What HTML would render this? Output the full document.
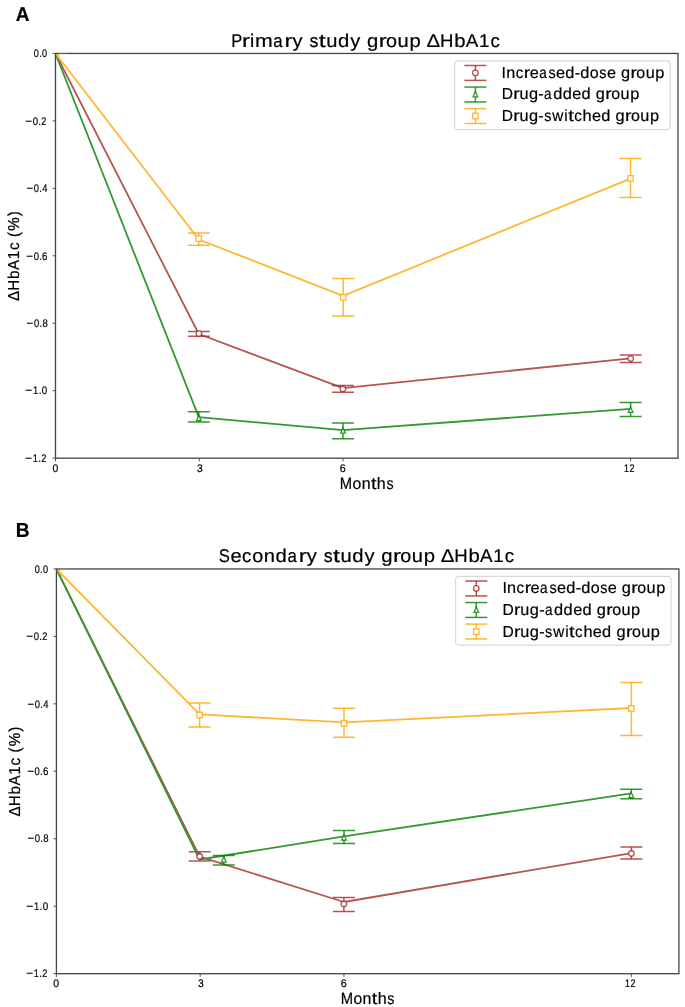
<!DOCTYPE html>
<html><head><meta charset="utf-8"><style>
html,body{margin:0;padding:0;background:#fff;}
svg{display:block;will-change:transform;}
.wrap{}
text{font-family:"Liberation Sans",sans-serif;font-kerning:none;text-rendering:geometricPrecision;stroke:#000;stroke-width:0.2;}
.sp{stroke:#444;fill:none;}
</style></head><body>
<div class="wrap"><svg width="685" height="1007" viewBox="0 0 685 1007">
<rect width="685" height="1007" fill="#fff"/>
<g>
<rect width="685" height="1007" fill="#fff"/>
<text transform="translate(15.73,21) scale(0.9440,1)" font-size="20.06" font-weight="bold" fill="#000">A</text>
<text transform="translate(15.72,537) scale(0.9500,1)" font-size="20.2" font-weight="bold" fill="#000">B</text>
<text transform="translate(33.84,57) scale(0.821,1)" font-size="11.1">0</text><text transform="translate(39.2,57) scale(0.842,1)" font-size="11.1">.</text><text transform="translate(42.09,57) scale(0.821,1)" font-size="11.1">0</text>
<line x1="52.5" y1="53.45" x2="55.5" y2="53.45" class="sp" stroke-width="0.9"/>
<text transform="translate(25.33,125) scale(1.050,1)" font-size="11.1">−</text><text transform="translate(32.74,125) scale(0.859,1)" font-size="11.1">0</text><text transform="translate(38.35,125) scale(0.882,1)" font-size="11.1">.</text><text transform="translate(41.35,125) scale(0.828,1)" font-size="11.1">2</text>
<line x1="52.5" y1="120.9" x2="55.5" y2="120.9" class="sp" stroke-width="0.9"/>
<text transform="translate(26.53,192) scale(1.035,1)" font-size="11.1">−</text><text transform="translate(33.84,192) scale(0.847,1)" font-size="11.1">0</text><text transform="translate(39.37,192) scale(0.869,1)" font-size="11.1">.</text><text transform="translate(42.35,192) scale(0.847,1)" font-size="11.1">4</text>
<line x1="52.5" y1="188.35" x2="55.5" y2="188.35" class="sp" stroke-width="0.9"/>
<text transform="translate(26.33,260) scale(1.038,1)" font-size="11.1">−</text><text transform="translate(33.67,260) scale(0.849,1)" font-size="11.1">0</text><text transform="translate(39.21,260) scale(0.872,1)" font-size="11.1">.</text><text transform="translate(42.1,260) scale(0.879,1)" font-size="11.1">6</text>
<line x1="52.5" y1="255.8" x2="55.5" y2="255.8" class="sp" stroke-width="0.9"/>
<text transform="translate(26.53,327) scale(1.040,1)" font-size="11.1">−</text><text transform="translate(33.88,327) scale(0.851,1)" font-size="11.1">0</text><text transform="translate(39.43,327) scale(0.874,1)" font-size="11.1">.</text><text transform="translate(42.4,327) scale(0.860,1)" font-size="11.1">8</text>
<line x1="52.5" y1="323.25" x2="55.5" y2="323.25" class="sp" stroke-width="0.9"/>
<text transform="translate(25.31,394) scale(1.081,1)" font-size="11.1">−</text><text transform="translate(33.02,394) scale(0.844,1)" font-size="11.1">1</text><text transform="translate(38.71,394) scale(0.907,1)" font-size="11.1">.</text><text transform="translate(41.83,394) scale(0.884,1)" font-size="11.1">0</text>
<line x1="52.5" y1="390.7" x2="55.5" y2="390.7" class="sp" stroke-width="0.9"/>
<text transform="translate(25.33,462) scale(1.050,1)" font-size="11.1">−</text><text transform="translate(32.82,462) scale(0.820,1)" font-size="11.1">1</text><text transform="translate(38.35,462) scale(0.882,1)" font-size="11.1">.</text><text transform="translate(41.35,462) scale(0.828,1)" font-size="11.1">2</text>
<line x1="52.5" y1="458.15" x2="55.5" y2="458.15" class="sp" stroke-width="0.9"/>
<text transform="translate(52.44,472) scale(0.942,1)" font-size="11.1">0</text>
<line x1="55.5" y1="458.2" x2="55.5" y2="461.4" class="sp" stroke-width="0.9"/>
<text transform="translate(197.02,472) scale(0.931,1)" font-size="11.1">3</text>
<line x1="199.26" y1="458.2" x2="199.26" y2="461.4" class="sp" stroke-width="0.9"/>
<text transform="translate(339.82,472) scale(0.976,1)" font-size="11.1">6</text>
<line x1="343.02" y1="458.2" x2="343.02" y2="461.4" class="sp" stroke-width="0.9"/>
<text transform="translate(624.06,472) scale(0.802,1)" font-size="11.1">1</text><text transform="translate(629.59,472) scale(0.810,1)" font-size="11.1">2</text>
<line x1="630.54" y1="458.2" x2="630.54" y2="461.4" class="sp" stroke-width="0.9"/>
<text transform="translate(339.79,489) scale(0.896,1)" font-size="16.5">M</text><text transform="translate(352.49,489) scale(0.955,1)" font-size="16.5">o</text><text transform="translate(361.69,489) scale(0.968,1)" font-size="16.5">n</text><text transform="translate(370.89,489) scale(1.200,1)" font-size="16.5">t</text><text transform="translate(376.84,489) scale(0.975,1)" font-size="16.5">h</text><text transform="translate(386.41,489) scale(0.861,1)" font-size="16.5">s</text>
<text transform="translate(18.75,301) rotate(-90) scale(0.9534,1)" x="-0.05 10.83 23.2 32.6 43.81 53.51 54.51 67.04 73.57 88.97" y="0" font-size="15.93">ΔHbA1c (%)</text>
<text transform="translate(231.34,47.2) scale(0.893,1)" font-size="18.5">P</text><text transform="translate(241.91,47.2) scale(1.294,1)" font-size="18.5">r</text><text transform="translate(249.97,47.2) scale(1.032,1)" font-size="18.5">i</text><text transform="translate(254.96,47.2) scale(1.150,1)" font-size="18.5">m</text><text transform="translate(273.28,47.2) scale(0.908,1)" font-size="18.5">a</text><text transform="translate(284.42,47.2) scale(1.294,1)" font-size="18.5">r</text><text transform="translate(292.5,47.2) scale(1.084,1)" font-size="18.5">y</text><text transform="translate(309.5,47.2) scale(0.968,1)" font-size="18.5">s</text><text transform="translate(318.84,47.2) scale(1.350,1)" font-size="18.5">t</text><text transform="translate(326.32,47.2) scale(1.089,1)" font-size="18.5">u</text><text transform="translate(338.06,47.2) scale(1.097,1)" font-size="18.5">d</text><text transform="translate(350.25,47.2) scale(1.084,1)" font-size="18.5">y</text><text transform="translate(366.91,47.2) scale(1.097,1)" font-size="18.5">g</text><text transform="translate(378.7,47.2) scale(1.294,1)" font-size="18.5">r</text><text transform="translate(386.06,47.2) scale(1.073,1)" font-size="18.5">o</text><text transform="translate(397.57,47.2) scale(1.089,1)" font-size="18.5">u</text><text transform="translate(409.52,47.2) scale(1.099,1)" font-size="18.5">p</text><text transform="translate(426.46,47.2) scale(1.109,1)" font-size="18.5">Δ</text><text transform="translate(440.01,47.2) scale(1.004,1)" font-size="18.5">H</text><text transform="translate(454.14,47.2) scale(1.099,1)" font-size="18.5">b</text><text transform="translate(465.72,47.2) scale(1.017,1)" font-size="18.5">A</text><text transform="translate(479.01,47.2) scale(1.017,1)" font-size="18.5">1</text><text transform="translate(490.51,47.2) scale(1.013,1)" font-size="18.5">c</text>
<clipPath id="c0"><rect x="55.5" y="53.45" width="622.5" height="404.75"/></clipPath>
<g clip-path="url(#c0)">
<path d="M55.5,53.5 L198.8,334 L343,388.1 L630.5,358.3" fill="none" stroke="#b75555" stroke-width="1.8" stroke-linejoin="round"/>
<path d="M198.9,331.6 V336.3 M342.9,385.4 V392.2 M630.7,354.9 V362.4" fill="none" stroke="#A52A2A" stroke-opacity="0.8" stroke-width="1.5"/>
<path d="M187.9,331.6 H209.9 M331.9,385.4 H353.9 M619.7,354.9 H641.7" fill="none" stroke="#A52A2A" stroke-opacity="0.8" stroke-width="1.5"/>
<path d="M187.9,336.3 H209.9 M331.9,392.2 H353.9 M619.7,362.4 H641.7" fill="none" stroke="#A52A2A" stroke-opacity="0.8" stroke-width="1.5"/>
<path d="M55.5,53.5 L198.8,417.2 L343,430.1 L630.5,408.8" fill="none" stroke="#339933" stroke-width="1.8" stroke-linejoin="round"/>
<path d="M198.8,411.7 V422 M343,422.9 V438.7 M630.6,402.5 V416.5" fill="none" stroke="#008000" stroke-opacity="0.8" stroke-width="1.5"/>
<path d="M187.8,411.7 H209.8 M332,422.9 H354 M619.6,402.5 H641.6" fill="none" stroke="#008000" stroke-opacity="0.8" stroke-width="1.5"/>
<path d="M187.8,422 H209.8 M332,438.7 H354 M619.6,416.5 H641.6" fill="none" stroke="#008000" stroke-opacity="0.8" stroke-width="1.5"/>
<path d="M55.5,53.5 L198.8,239.5 L343.1,295.8 L630.5,178.6" fill="none" stroke="#ffb733" stroke-width="1.8" stroke-linejoin="round"/>
<path d="M198.7,233 V245.2 M343.2,278.6 V315.9 M630.5,158.6 V197.6" fill="none" stroke="#FFA500" stroke-opacity="0.8" stroke-width="1.5"/>
<path d="M187.7,233 H209.7 M332.2,278.6 H354.2 M619.5,158.6 H641.5" fill="none" stroke="#FFA500" stroke-opacity="0.8" stroke-width="1.5"/>
<path d="M187.7,245.2 H209.7 M332.2,315.9 H354.2 M619.5,197.6 H641.5" fill="none" stroke="#FFA500" stroke-opacity="0.8" stroke-width="1.5"/>
<circle cx="198.9" cy="333.6" r="2.75" fill="#fff" stroke="#A52A2A" stroke-opacity="0.8" stroke-width="1.3"/>
<circle cx="342.9" cy="389" r="2.75" fill="#fff" stroke="#A52A2A" stroke-opacity="0.8" stroke-width="1.3"/>
<circle cx="630.7" cy="358.6" r="2.75" fill="#fff" stroke="#A52A2A" stroke-opacity="0.8" stroke-width="1.3"/>
<path d="M198.8,415.3 L201.15,420.7 L196.45,420.7 Z" fill="#fff" stroke="#008000" stroke-opacity="0.8" stroke-width="1.3" stroke-linejoin="miter"/>
<path d="M343,427.8 L345.35,433.2 L340.65,433.2 Z" fill="#fff" stroke="#008000" stroke-opacity="0.8" stroke-width="1.3" stroke-linejoin="miter"/>
<path d="M630.6,406.9 L632.95,412.3 L628.25,412.3 Z" fill="#fff" stroke="#008000" stroke-opacity="0.8" stroke-width="1.3" stroke-linejoin="miter"/>
<rect x="196" y="235.9" width="5.4" height="5.4" fill="#fff" stroke="#FFA500" stroke-opacity="0.8" stroke-width="1.3"/>
<rect x="340.5" y="294.6" width="5.4" height="5.4" fill="#fff" stroke="#FFA500" stroke-opacity="0.8" stroke-width="1.3"/>
<rect x="627.8" y="175.6" width="5.4" height="5.4" fill="#fff" stroke="#FFA500" stroke-opacity="0.8" stroke-width="1.3"/>
<path d="M58.4,53.45 V56.55" stroke="#FFA500" stroke-opacity="0.8" stroke-width="1.1" fill="none"/>
</g>
<rect x="55.5" y="53.45" width="622.5" height="404.75" fill="none" class="sp" stroke-width="1.3"/>
<path d="M58.1,53.45 H66.7" stroke="#FFA500" stroke-opacity="0.3" stroke-width="1.2" fill="none"/>
<rect x="454.7" y="60.9" width="215.5" height="68.7" rx="3.5" fill="#fff" stroke="#d8d8d8" stroke-width="1.1"/>
<path d="M475.4,65.5 V80.4" fill="none" stroke="#A52A2A" stroke-opacity="0.8" stroke-width="1.5"/>
<path d="M464.4,65.5 H486.4" fill="none" stroke="#A52A2A" stroke-opacity="0.8" stroke-width="1.5"/>
<path d="M464.4,80.4 H486.4" fill="none" stroke="#A52A2A" stroke-opacity="0.8" stroke-width="1.5"/>
<circle cx="475.4" cy="72.95" r="2.75" fill="#fff" stroke="#A52A2A" stroke-opacity="0.8" stroke-width="1.3"/>
<text transform="translate(501.48,78) scale(0.995,1)" font-size="16">I</text><text transform="translate(506.2,78) scale(1.014,1)" font-size="16">n</text><text transform="translate(515.64,78) scale(0.944,1)" font-size="16">c</text><text transform="translate(523.81,78) scale(1.205,1)" font-size="16">r</text><text transform="translate(529.72,78) scale(1.016,1)" font-size="16">e</text><text transform="translate(539.17,78) scale(0.846,1)" font-size="16">a</text><text transform="translate(548.48,78) scale(0.902,1)" font-size="16">s</text><text transform="translate(556.04,78) scale(1.016,1)" font-size="16">e</text><text transform="translate(565.31,78) scale(1.022,1)" font-size="16">d</text><text transform="translate(574.73,78) scale(1.014,1)" font-size="16">-</text><text transform="translate(580.29,78) scale(1.022,1)" font-size="16">d</text><text transform="translate(589.86,78) scale(1.000,1)" font-size="16">o</text><text transform="translate(599.32,78) scale(0.902,1)" font-size="16">s</text><text transform="translate(606.89,78) scale(1.016,1)" font-size="16">e</text><text transform="translate(620.94,78) scale(1.022,1)" font-size="16">g</text><text transform="translate(630.43,78) scale(1.205,1)" font-size="16">r</text><text transform="translate(636.36,78) scale(1.000,1)" font-size="16">o</text><text transform="translate(645.64,78) scale(1.014,1)" font-size="16">u</text><text transform="translate(655.26,78) scale(1.023,1)" font-size="16">p</text>
<path d="M475.4,87.05 V101.95" fill="none" stroke="#008000" stroke-opacity="0.8" stroke-width="1.5"/>
<path d="M464.4,87.05 H486.4" fill="none" stroke="#008000" stroke-opacity="0.8" stroke-width="1.5"/>
<path d="M464.4,101.95 H486.4" fill="none" stroke="#008000" stroke-opacity="0.8" stroke-width="1.5"/>
<path d="M475.4,91.5 L477.75,96.9 L473.05,96.9 Z" fill="#fff" stroke="#008000" stroke-opacity="0.8" stroke-width="1.3" stroke-linejoin="miter"/>
<text transform="translate(501.67,99) scale(0.973,1)" font-size="16">D</text><text transform="translate(513.15,99) scale(1.205,1)" font-size="16">r</text><text transform="translate(519.47,99) scale(1.014,1)" font-size="16">u</text><text transform="translate(528.93,99) scale(1.022,1)" font-size="16">g</text><text transform="translate(538.35,99) scale(1.014,1)" font-size="16">-</text><text transform="translate(544.1,99) scale(0.846,1)" font-size="16">a</text><text transform="translate(553.14,99) scale(1.022,1)" font-size="16">d</text><text transform="translate(562.69,99) scale(1.022,1)" font-size="16">d</text><text transform="translate(572.24,99) scale(1.016,1)" font-size="16">e</text><text transform="translate(581.5,99) scale(1.022,1)" font-size="16">d</text><text transform="translate(595.84,99) scale(1.022,1)" font-size="16">g</text><text transform="translate(605.34,99) scale(1.205,1)" font-size="16">r</text><text transform="translate(611.27,99) scale(1.000,1)" font-size="16">o</text><text transform="translate(620.54,99) scale(1.014,1)" font-size="16">u</text><text transform="translate(630.17,99) scale(1.023,1)" font-size="16">p</text>
<path d="M475.4,108.6 V123.5" fill="none" stroke="#FFA500" stroke-opacity="0.8" stroke-width="1.5"/>
<path d="M464.4,108.6 H486.4" fill="none" stroke="#FFA500" stroke-opacity="0.8" stroke-width="1.5"/>
<path d="M464.4,123.5 H486.4" fill="none" stroke="#FFA500" stroke-opacity="0.8" stroke-width="1.5"/>
<rect x="472.7" y="113.35" width="5.4" height="5.4" fill="#fff" stroke="#FFA500" stroke-opacity="0.8" stroke-width="1.3"/>
<text transform="translate(501.67,121) scale(0.973,1)" font-size="16">D</text><text transform="translate(513.15,121) scale(1.205,1)" font-size="16">r</text><text transform="translate(519.47,121) scale(1.014,1)" font-size="16">u</text><text transform="translate(528.93,121) scale(1.022,1)" font-size="16">g</text><text transform="translate(538.35,121) scale(1.014,1)" font-size="16">-</text><text transform="translate(544.19,121) scale(0.902,1)" font-size="16">s</text><text transform="translate(552.27,121) scale(0.951,1)" font-size="16">w</text><text transform="translate(564.31,121) scale(0.962,1)" font-size="16">i</text><text transform="translate(568.2,121) scale(1.257,1)" font-size="16">t</text><text transform="translate(574.19,121) scale(0.944,1)" font-size="16">c</text><text transform="translate(582.51,121) scale(1.021,1)" font-size="16">h</text><text transform="translate(591.96,121) scale(1.016,1)" font-size="16">e</text><text transform="translate(601.22,121) scale(1.022,1)" font-size="16">d</text><text transform="translate(615.56,121) scale(1.022,1)" font-size="16">g</text><text transform="translate(625.05,121) scale(1.205,1)" font-size="16">r</text><text transform="translate(630.98,121) scale(1.000,1)" font-size="16">o</text><text transform="translate(640.26,121) scale(1.014,1)" font-size="16">u</text><text transform="translate(649.88,121) scale(1.023,1)" font-size="16">p</text>
<text transform="translate(34.74,573) scale(0.821,1)" font-size="11.1">0</text><text transform="translate(40.1,573) scale(0.842,1)" font-size="11.1">.</text><text transform="translate(42.99,573) scale(0.821,1)" font-size="11.1">0</text>
<line x1="53.4" y1="568.95" x2="56.4" y2="568.95" class="sp" stroke-width="0.9"/>
<text transform="translate(26.23,640) scale(1.050,1)" font-size="11.1">−</text><text transform="translate(33.64,640) scale(0.859,1)" font-size="11.1">0</text><text transform="translate(39.25,640) scale(0.882,1)" font-size="11.1">.</text><text transform="translate(42.25,640) scale(0.828,1)" font-size="11.1">2</text>
<line x1="53.4" y1="636.4" x2="56.4" y2="636.4" class="sp" stroke-width="0.9"/>
<text transform="translate(27.43,708) scale(1.035,1)" font-size="11.1">−</text><text transform="translate(34.74,708) scale(0.847,1)" font-size="11.1">0</text><text transform="translate(40.27,708) scale(0.869,1)" font-size="11.1">.</text><text transform="translate(43.25,708) scale(0.847,1)" font-size="11.1">4</text>
<line x1="53.4" y1="703.85" x2="56.4" y2="703.85" class="sp" stroke-width="0.9"/>
<text transform="translate(27.23,775) scale(1.038,1)" font-size="11.1">−</text><text transform="translate(34.57,775) scale(0.849,1)" font-size="11.1">0</text><text transform="translate(40.11,775) scale(0.872,1)" font-size="11.1">.</text><text transform="translate(43,775) scale(0.879,1)" font-size="11.1">6</text>
<line x1="53.4" y1="771.3" x2="56.4" y2="771.3" class="sp" stroke-width="0.9"/>
<text transform="translate(27.43,842) scale(1.040,1)" font-size="11.1">−</text><text transform="translate(34.78,842) scale(0.851,1)" font-size="11.1">0</text><text transform="translate(40.33,842) scale(0.874,1)" font-size="11.1">.</text><text transform="translate(43.3,842) scale(0.860,1)" font-size="11.1">8</text>
<line x1="53.4" y1="838.75" x2="56.4" y2="838.75" class="sp" stroke-width="0.9"/>
<text transform="translate(26.21,910) scale(1.081,1)" font-size="11.1">−</text><text transform="translate(33.92,910) scale(0.844,1)" font-size="11.1">1</text><text transform="translate(39.61,910) scale(0.907,1)" font-size="11.1">.</text><text transform="translate(42.73,910) scale(0.884,1)" font-size="11.1">0</text>
<line x1="53.4" y1="906.2" x2="56.4" y2="906.2" class="sp" stroke-width="0.9"/>
<text transform="translate(26.23,977) scale(1.050,1)" font-size="11.1">−</text><text transform="translate(33.72,977) scale(0.820,1)" font-size="11.1">1</text><text transform="translate(39.25,977) scale(0.882,1)" font-size="11.1">.</text><text transform="translate(42.25,977) scale(0.828,1)" font-size="11.1">2</text>
<line x1="53.4" y1="973.65" x2="56.4" y2="973.65" class="sp" stroke-width="0.9"/>
<text transform="translate(53.34,987) scale(0.942,1)" font-size="11.1">0</text>
<line x1="56.4" y1="973.7" x2="56.4" y2="976.9" class="sp" stroke-width="0.9"/>
<text transform="translate(197.92,987) scale(0.931,1)" font-size="11.1">3</text>
<line x1="200.16" y1="973.7" x2="200.16" y2="976.9" class="sp" stroke-width="0.9"/>
<text transform="translate(340.72,987) scale(0.976,1)" font-size="11.1">6</text>
<line x1="343.92" y1="973.7" x2="343.92" y2="976.9" class="sp" stroke-width="0.9"/>
<text transform="translate(624.96,987) scale(0.802,1)" font-size="11.1">1</text><text transform="translate(630.49,987) scale(0.810,1)" font-size="11.1">2</text>
<line x1="631.44" y1="973.7" x2="631.44" y2="976.9" class="sp" stroke-width="0.9"/>
<text transform="translate(340.69,1004) scale(0.896,1)" font-size="16.5">M</text><text transform="translate(353.39,1004) scale(0.955,1)" font-size="16.5">o</text><text transform="translate(362.59,1004) scale(0.968,1)" font-size="16.5">n</text><text transform="translate(371.79,1004) scale(1.200,1)" font-size="16.5">t</text><text transform="translate(377.74,1004) scale(0.975,1)" font-size="16.5">h</text><text transform="translate(387.31,1004) scale(0.861,1)" font-size="16.5">s</text>
<text transform="translate(19.65,816.5) rotate(-90) scale(0.9534,1)" x="-0.05 10.83 23.2 32.6 43.81 53.51 54.51 67.04 73.57 88.97" y="0" font-size="15.93">ΔHbA1c (%)</text>
<text transform="translate(218.84,562.4) scale(0.900,1)" font-size="18.5">S</text><text transform="translate(230.4,562.4) scale(1.091,1)" font-size="18.5">e</text><text transform="translate(241.95,562.4) scale(1.013,1)" font-size="18.5">c</text><text transform="translate(252.19,562.4) scale(1.073,1)" font-size="18.5">o</text><text transform="translate(263.78,562.4) scale(1.089,1)" font-size="18.5">n</text><text transform="translate(275.44,562.4) scale(1.097,1)" font-size="18.5">d</text><text transform="translate(287.52,562.4) scale(0.908,1)" font-size="18.5">a</text><text transform="translate(298.67,562.4) scale(1.294,1)" font-size="18.5">r</text><text transform="translate(306.75,562.4) scale(1.084,1)" font-size="18.5">y</text><text transform="translate(323.75,562.4) scale(0.968,1)" font-size="18.5">s</text><text transform="translate(333.09,562.4) scale(1.350,1)" font-size="18.5">t</text><text transform="translate(340.57,562.4) scale(1.089,1)" font-size="18.5">u</text><text transform="translate(352.31,562.4) scale(1.097,1)" font-size="18.5">d</text><text transform="translate(364.49,562.4) scale(1.084,1)" font-size="18.5">y</text><text transform="translate(381.16,562.4) scale(1.097,1)" font-size="18.5">g</text><text transform="translate(392.94,562.4) scale(1.294,1)" font-size="18.5">r</text><text transform="translate(400.3,562.4) scale(1.073,1)" font-size="18.5">o</text><text transform="translate(411.81,562.4) scale(1.089,1)" font-size="18.5">u</text><text transform="translate(423.76,562.4) scale(1.099,1)" font-size="18.5">p</text><text transform="translate(440.7,562.4) scale(1.109,1)" font-size="18.5">Δ</text><text transform="translate(454.26,562.4) scale(1.004,1)" font-size="18.5">H</text><text transform="translate(468.38,562.4) scale(1.099,1)" font-size="18.5">b</text><text transform="translate(479.96,562.4) scale(1.017,1)" font-size="18.5">A</text><text transform="translate(493.25,562.4) scale(1.017,1)" font-size="18.5">1</text><text transform="translate(504.75,562.4) scale(1.013,1)" font-size="18.5">c</text>
<clipPath id="c515"><rect x="56.4" y="568.95" width="622.5" height="404.75"/></clipPath>
<g clip-path="url(#c515)">
<path d="M56.4,569 L199.7,856.6 L343.9,902 L631.4,853.1" fill="none" stroke="#b75555" stroke-width="1.8" stroke-linejoin="round"/>
<path d="M199.7,851.7 V861.1 M343.9,897.5 V911.4 M631.4,847 V859.1" fill="none" stroke="#A52A2A" stroke-opacity="0.8" stroke-width="1.5"/>
<path d="M188.7,851.7 H210.7 M332.9,897.5 H354.9 M620.4,847 H642.4" fill="none" stroke="#A52A2A" stroke-opacity="0.8" stroke-width="1.5"/>
<path d="M188.7,861.1 H210.7 M332.9,911.4 H354.9 M620.4,859.1 H642.4" fill="none" stroke="#A52A2A" stroke-opacity="0.8" stroke-width="1.5"/>
<path d="M56.4,569 L199.6,859.5 L344,836.4 L631.4,793.3" fill="none" stroke="#339933" stroke-width="1.8" stroke-linejoin="round"/>
<path d="M223.8,855.4 V864.9 M344,830.4 V843.5 M631.2,789.2 V798.8" fill="none" stroke="#008000" stroke-opacity="0.8" stroke-width="1.5"/>
<path d="M212.8,855.4 H234.8 M333,830.4 H355 M620.2,789.2 H642.2" fill="none" stroke="#008000" stroke-opacity="0.8" stroke-width="1.5"/>
<path d="M212.8,864.9 H234.8 M333,843.5 H355 M620.2,798.8 H642.2" fill="none" stroke="#008000" stroke-opacity="0.8" stroke-width="1.5"/>
<path d="M56.4,569 L199.6,714.4 L344,722.4 L631.4,708" fill="none" stroke="#ffb733" stroke-width="1.8" stroke-linejoin="round"/>
<path d="M199.6,703 V727 M344,708.3 V737.2 M631.4,682.4 V735.4" fill="none" stroke="#FFA500" stroke-opacity="0.8" stroke-width="1.5"/>
<path d="M188.6,703 H210.6 M333,708.3 H355 M620.4,682.4 H642.4" fill="none" stroke="#FFA500" stroke-opacity="0.8" stroke-width="1.5"/>
<path d="M188.6,727 H210.6 M333,737.2 H355 M620.4,735.4 H642.4" fill="none" stroke="#FFA500" stroke-opacity="0.8" stroke-width="1.5"/>
<circle cx="199.7" cy="856.5" r="2.75" fill="#fff" stroke="#A52A2A" stroke-opacity="0.8" stroke-width="1.3"/>
<circle cx="343.9" cy="904" r="2.75" fill="#fff" stroke="#A52A2A" stroke-opacity="0.8" stroke-width="1.3"/>
<circle cx="631.4" cy="853.5" r="2.75" fill="#fff" stroke="#A52A2A" stroke-opacity="0.8" stroke-width="1.3"/>
<path d="M223.8,856.7 L226.15,862.1 L221.45,862.1 Z" fill="#fff" stroke="#008000" stroke-opacity="0.8" stroke-width="1.3" stroke-linejoin="miter"/>
<path d="M344,834.7 L346.35,840.1 L341.65,840.1 Z" fill="#fff" stroke="#008000" stroke-opacity="0.8" stroke-width="1.3" stroke-linejoin="miter"/>
<path d="M631.2,792.2 L633.55,797.6 L628.85,797.6 Z" fill="#fff" stroke="#008000" stroke-opacity="0.8" stroke-width="1.3" stroke-linejoin="miter"/>
<rect x="196.9" y="712.3" width="5.4" height="5.4" fill="#fff" stroke="#FFA500" stroke-opacity="0.8" stroke-width="1.3"/>
<rect x="341.3" y="720.7" width="5.4" height="5.4" fill="#fff" stroke="#FFA500" stroke-opacity="0.8" stroke-width="1.3"/>
<rect x="628.7" y="705.8" width="5.4" height="5.4" fill="#fff" stroke="#FFA500" stroke-opacity="0.8" stroke-width="1.3"/>
<path d="M59.3,568.95 V572.05" stroke="#FFA500" stroke-opacity="0.8" stroke-width="1.1" fill="none"/>
</g>
<rect x="56.4" y="568.95" width="622.5" height="404.75" fill="none" class="sp" stroke-width="1.3"/>
<path d="M59,568.95 H67.6" stroke="#FFA500" stroke-opacity="0.3" stroke-width="1.2" fill="none"/>
<rect x="455.6" y="576.4" width="215.5" height="68.7" rx="3.5" fill="#fff" stroke="#d8d8d8" stroke-width="1.1"/>
<path d="M476.3,581 V595.9" fill="none" stroke="#A52A2A" stroke-opacity="0.8" stroke-width="1.5"/>
<path d="M465.3,581 H487.3" fill="none" stroke="#A52A2A" stroke-opacity="0.8" stroke-width="1.5"/>
<path d="M465.3,595.9 H487.3" fill="none" stroke="#A52A2A" stroke-opacity="0.8" stroke-width="1.5"/>
<circle cx="476.3" cy="588.45" r="2.75" fill="#fff" stroke="#A52A2A" stroke-opacity="0.8" stroke-width="1.3"/>
<text transform="translate(502.38,593) scale(0.995,1)" font-size="16">I</text><text transform="translate(507.1,593) scale(1.014,1)" font-size="16">n</text><text transform="translate(516.54,593) scale(0.944,1)" font-size="16">c</text><text transform="translate(524.71,593) scale(1.205,1)" font-size="16">r</text><text transform="translate(530.62,593) scale(1.016,1)" font-size="16">e</text><text transform="translate(540.07,593) scale(0.846,1)" font-size="16">a</text><text transform="translate(549.38,593) scale(0.902,1)" font-size="16">s</text><text transform="translate(556.94,593) scale(1.016,1)" font-size="16">e</text><text transform="translate(566.21,593) scale(1.022,1)" font-size="16">d</text><text transform="translate(575.63,593) scale(1.014,1)" font-size="16">-</text><text transform="translate(581.19,593) scale(1.022,1)" font-size="16">d</text><text transform="translate(590.76,593) scale(1.000,1)" font-size="16">o</text><text transform="translate(600.22,593) scale(0.902,1)" font-size="16">s</text><text transform="translate(607.79,593) scale(1.016,1)" font-size="16">e</text><text transform="translate(621.84,593) scale(1.022,1)" font-size="16">g</text><text transform="translate(631.33,593) scale(1.205,1)" font-size="16">r</text><text transform="translate(637.26,593) scale(1.000,1)" font-size="16">o</text><text transform="translate(646.54,593) scale(1.014,1)" font-size="16">u</text><text transform="translate(656.16,593) scale(1.023,1)" font-size="16">p</text>
<path d="M476.3,602.55 V617.45" fill="none" stroke="#008000" stroke-opacity="0.8" stroke-width="1.5"/>
<path d="M465.3,602.55 H487.3" fill="none" stroke="#008000" stroke-opacity="0.8" stroke-width="1.5"/>
<path d="M465.3,617.45 H487.3" fill="none" stroke="#008000" stroke-opacity="0.8" stroke-width="1.5"/>
<path d="M476.3,607 L478.65,612.4 L473.95,612.4 Z" fill="#fff" stroke="#008000" stroke-opacity="0.8" stroke-width="1.3" stroke-linejoin="miter"/>
<text transform="translate(502.57,615) scale(0.973,1)" font-size="16">D</text><text transform="translate(514.05,615) scale(1.205,1)" font-size="16">r</text><text transform="translate(520.37,615) scale(1.014,1)" font-size="16">u</text><text transform="translate(529.83,615) scale(1.022,1)" font-size="16">g</text><text transform="translate(539.25,615) scale(1.014,1)" font-size="16">-</text><text transform="translate(545,615) scale(0.846,1)" font-size="16">a</text><text transform="translate(554.04,615) scale(1.022,1)" font-size="16">d</text><text transform="translate(563.59,615) scale(1.022,1)" font-size="16">d</text><text transform="translate(573.14,615) scale(1.016,1)" font-size="16">e</text><text transform="translate(582.4,615) scale(1.022,1)" font-size="16">d</text><text transform="translate(596.74,615) scale(1.022,1)" font-size="16">g</text><text transform="translate(606.24,615) scale(1.205,1)" font-size="16">r</text><text transform="translate(612.17,615) scale(1.000,1)" font-size="16">o</text><text transform="translate(621.44,615) scale(1.014,1)" font-size="16">u</text><text transform="translate(631.07,615) scale(1.023,1)" font-size="16">p</text>
<path d="M476.3,624.1 V639" fill="none" stroke="#FFA500" stroke-opacity="0.8" stroke-width="1.5"/>
<path d="M465.3,624.1 H487.3" fill="none" stroke="#FFA500" stroke-opacity="0.8" stroke-width="1.5"/>
<path d="M465.3,639 H487.3" fill="none" stroke="#FFA500" stroke-opacity="0.8" stroke-width="1.5"/>
<rect x="473.6" y="628.85" width="5.4" height="5.4" fill="#fff" stroke="#FFA500" stroke-opacity="0.8" stroke-width="1.3"/>
<text transform="translate(502.57,637) scale(0.973,1)" font-size="16">D</text><text transform="translate(514.05,637) scale(1.205,1)" font-size="16">r</text><text transform="translate(520.37,637) scale(1.014,1)" font-size="16">u</text><text transform="translate(529.83,637) scale(1.022,1)" font-size="16">g</text><text transform="translate(539.25,637) scale(1.014,1)" font-size="16">-</text><text transform="translate(545.09,637) scale(0.902,1)" font-size="16">s</text><text transform="translate(553.17,637) scale(0.951,1)" font-size="16">w</text><text transform="translate(565.21,637) scale(0.962,1)" font-size="16">i</text><text transform="translate(569.1,637) scale(1.257,1)" font-size="16">t</text><text transform="translate(575.09,637) scale(0.944,1)" font-size="16">c</text><text transform="translate(583.41,637) scale(1.021,1)" font-size="16">h</text><text transform="translate(592.86,637) scale(1.016,1)" font-size="16">e</text><text transform="translate(602.12,637) scale(1.022,1)" font-size="16">d</text><text transform="translate(616.46,637) scale(1.022,1)" font-size="16">g</text><text transform="translate(625.95,637) scale(1.205,1)" font-size="16">r</text><text transform="translate(631.88,637) scale(1.000,1)" font-size="16">o</text><text transform="translate(641.16,637) scale(1.014,1)" font-size="16">u</text><text transform="translate(650.78,637) scale(1.023,1)" font-size="16">p</text>
</g>
</svg></div>
</body></html>
